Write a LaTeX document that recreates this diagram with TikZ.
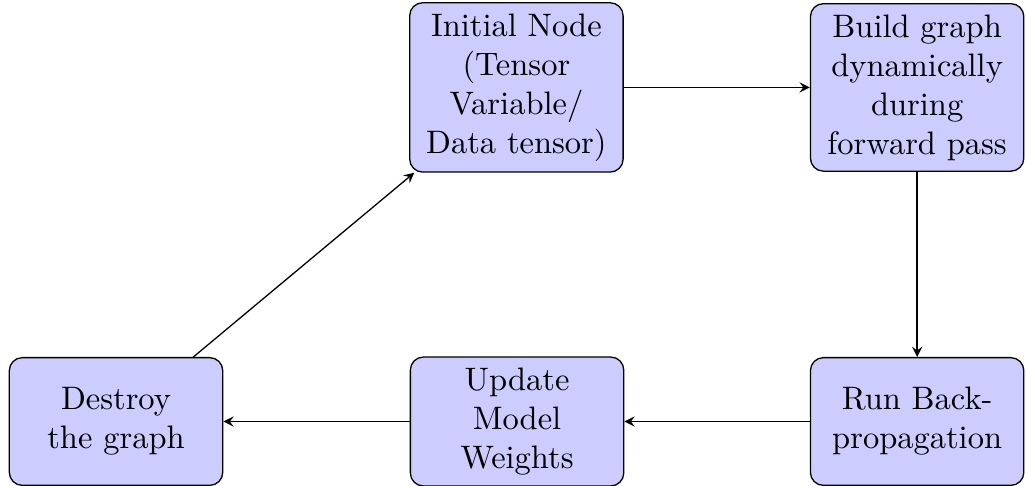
\documentclass[tikz,border=0pt]{standalone}
\usetikzlibrary{arrows}
\begin{document}
\begin{tikzpicture}[x=1pt,y=1pt,
  box/.style={draw=black, fill=blue!20, rounded corners=4pt, text width=59pt, align=center, minimum height=39.3pt, inner xsep=3.333pt},
  conn/.style={-stealth, draw=black}]
\useasboundingbox (0,0) rectangle (315.7,149.5);
\node[box] (init) at (158.9,122.6) {Initial Node\\(Tensor\\Variable/\\Data tensor)};
\node[box] (build) at (282.2,122.6) {Build graph\\dynamically\\during\\forward pass};
\node[box] (run) at (282.2,19.8) {Run Back-\\propagation};
\node[box] (update) at (159.1,19.8) {Update\\Model\\Weights};
\node[box] (destroy) at (35.7,19.8) {Destroy\\the graph};
\draw[conn] (init) -- (build);
\draw[conn] (build) -- (run);
\draw[conn] (run) -- (update);
\draw[conn] (update) -- (destroy);
\draw[conn] (destroy) -- (init);
\end{tikzpicture}
\end{document}
